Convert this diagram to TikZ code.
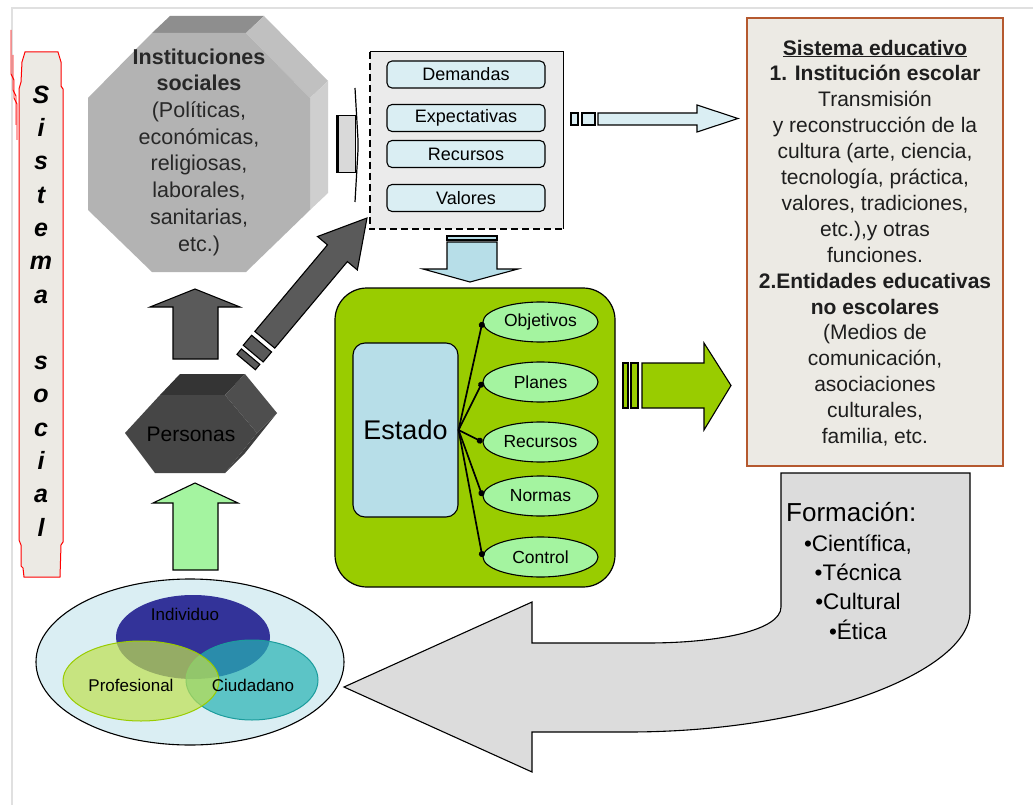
\documentclass[tikz,border=0pt]{standalone}
\usepackage{fontspec}
\setmainfont{Liberation Sans}
\usetikzlibrary{arrows.meta,shapes.geometric}

\definecolor{paleblue}{HTML}{DAEEF3}
\definecolor{tealblue}{HTML}{B7DEE8}
\definecolor{leaf}{HTML}{99CC00}
\definecolor{mint}{HTML}{A4F4A0}
\definecolor{panel}{HTML}{ECEAE4}
\definecolor{boxgray}{HTML}{EBEBEB}
\definecolor{rust}{HTML}{B5592F}
\definecolor{arrowgray}{HTML}{5A5A5A}
\definecolor{formgray}{HTML}{DCDCDC}
\definecolor{navy}{HTML}{333399}
\definecolor{limefill}{HTML}{BFE050}
\definecolor{tealfill}{HTML}{27B3B3}
\definecolor{tealline}{HTML}{1C9C9C}
\definecolor{framegray}{HTML}{E0E0E0}

\newcommand\fsz[2]{\fontsize{#1}{#2}\selectfont}

\begin{document}
\begin{tikzpicture}[x=1pt,y=-1pt,
  blockarrow/.style={draw=black, line width=1.1pt, line join=miter},
  item/.style={draw, line width=1.1pt, fill=paleblue, rounded corners=5pt,
    minimum width=158pt, minimum height=27pt, inner sep=0pt, font=\fsz{18}{18}},
  oval/.style={ellipse, draw, line width=1.1pt, fill=mint, minimum width=115pt,
    minimum height=40pt, inner sep=0pt, font=\fsz{17.5}{18}},
  link/.style={line width=1.7pt, -{Circle[length=6pt]}},
  label/.style={inner sep=0pt, align=center}]
\useasboundingbox (0,0) rectangle (1033,805);
\fill[white] (0,0) rectangle (1033,805);

% page frame
\draw[framegray, line width=1.5pt] (12,805) -- (12,8) -- (1033,8);

% ---------- Sistema social banner ----------
\draw[red, line width=0.9pt] (11,30) -- (11,74) -- (14,80) -- (14,98) -- (17,104) -- (17,140);
\draw[red, line width=0.9pt] (13,55) -- (13,90) -- (16,96) -- (16,125);
\draw[red, line width=1pt, fill=panel]
  (25,52) -- (58,52) -- (61,62) -- (61,86) -- (63,89) -- (63,542) -- (61,545)
  -- (60,577) -- (24,577) -- (23,568) -- (21,566) -- (21,545) -- (19,540)
  -- (19,89) -- (21,82) -- (22,62) -- cycle;
\node[label, font=\bfseries\itshape\fsz{25}{33.3}] (social) at (41,311)
  {S\\i\\s\\t\\e\\m\\a\\\mbox{}\\s\\o\\c\\i\\a\\l};

% ---------- Instituciones sociales (octagonal prism) ----------
\fill[fill={rgb,255:red,142;green,142;blue,142}] (152,33) -- (170,16) -- (264,16) -- (246,33) -- cycle;
\fill[fill={rgb,255:red,192;green,192;blue,192}] (246,33) -- (264,16) -- (328,81) -- (310,98) -- cycle;
\fill[fill={rgb,255:red,207;green,207;blue,207}] (310,98) -- (328,81) -- (328,193) -- (310,210) -- cycle;
\fill[fill={rgb,255:red,179;green,179;blue,179}]
  (88,98) -- (152,33) -- (246,33) -- (310,98) -- (310,210) -- (246,272) -- (152,272) -- (88,210) -- cycle;
\node[label, text={rgb,255:red,40;green,40;blue,40}, font=\fsz{21.5}{26.7}] (inst) at (199,152)
  {\textbf{Instituciones}\\\textbf{sociales}\\(Políticas,\\económicas,\\religiosas,\\laborales,\\sanitarias,\\etc.)};

% ---------- Personas (hexagonal prism) ----------
\fill[fill={rgb,255:red,52;green,52;blue,52}] (160,395) -- (180,374) -- (245,374) -- (225,395) -- cycle;
\fill[fill={rgb,255:red,78;green,78;blue,78}] (225,395) -- (245,374) -- (277,413) -- (257,433) -- cycle;
\fill[fill={rgb,255:red,62;green,62;blue,62}] (257,433) -- (277,413) -- (245,453) -- (225,473) -- cycle;
\fill[fill={rgb,255:red,70;green,70;blue,70}]
  (125,433) -- (160,395) -- (225,395) -- (257,433) -- (225,473) -- (155,473) -- cycle;
\node[label, font=\fsz{21}{21}] (pers) at (191,434) {Personas};

% upward arrows around Personas
\draw[blockarrow, fill=arrowgray]
  (173,359) -- (173,307) -- (150,307) -- (195,289) -- (240,307) -- (218,307) -- (218,359) -- cycle;
\draw[blockarrow, fill=mint]
  (173,570) -- (173,503) -- (153,503) -- (195,483) -- (238,503) -- (218,503) -- (218,570) -- cycle;

% diagonal striped arrow towards the demands box
\begin{scope}[shift={(367,218)}, rotate=50]
  \draw[blockarrow, fill=arrowgray]
    (0,0) -- (-46,26) -- (-46,13) -- (-159,13) -- (-159,-13) -- (-46,-13) -- (-46,-26) -- cycle;
  \draw[blockarrow, fill=arrowgray] (-164,13) rectangle (-177,-13);
  \draw[blockarrow, fill=arrowgray] (-181,12) rectangle (-188,-12);
\end{scope}

% flattened arrow entering the box from the left
\draw[line width=1pt, fill={rgb,255:red,217;green,217;blue,217}] (336,116) rectangle (355,173);
\draw[line width=3pt] (337,116) -- (337,173);
\draw[line width=1.2pt] (355,88) -- (358,140) -- (358,150) -- (355,202);

% ---------- Demands box ----------
\node[fill=boxgray, minimum width=193pt, minimum height=177pt, inner sep=0pt] (needs) at (466.5,140.5) {};
\draw[line width=1.2pt] (needs.north west) -- (needs.north east) -- (needs.south east);
\draw[line width=2.4pt, dash pattern=on 7pt off 4pt] (needs.north west) -- (needs.south west) -- (needs.south east);
\node[item] (dem) at (466,74.5) {Demandas};
\node[item] (expc) at (466,118) {Expectativas};
\node[item] (recu) at (466,154) {Recursos};
\node[item] (valo) at (466,198) {Valores};

% striped arrow to the educational system
\draw[blockarrow, fill=paleblue] (571,113) rectangle (578,125);
\draw[blockarrow, fill=paleblue] (582,113) rectangle (595,125);
\draw[blockarrow, fill=paleblue]
  (598,113) -- (697,113) -- (697,105) -- (738,118.5) -- (697,132) -- (697,125) -- (598,125) -- cycle;

% arrow down to the State
\draw[blockarrow, fill=tealblue] (447,236) rectangle (497,240);
\draw[blockarrow, fill=tealblue]
  (447,242) -- (497,242) -- (497,269) -- (518,269) -- (470,282) -- (423,269) -- (447,269) -- cycle;

% ---------- Estado ----------
\node[draw, line width=1.2pt, fill=leaf, rounded corners=32pt, minimum width=280pt,
  minimum height=299pt, inner sep=0pt] (state) at (475,437.5) {};
\node[draw, line width=1.1pt, fill=tealblue, rounded corners=12pt, minimum width=105pt,
  minimum height=174pt, inner sep=0pt, font=\fsz{27}{27}] (estado) at (405.5,430) {Estado};
\node[oval] (obj) at (540.5,322) {Objetivos};
\node[oval] (plan) at (540.5,382) {Planes};
\node[oval] (recs) at (540.5,442) {Recursos};
\node[oval] (norm) at (540.5,496) {Normas};
\node[oval] (ctrl) at (540.5,557) {Control};
\foreach \t in {obj,plan,recs,norm,ctrl}
  \draw[link] (estado.east) -- (\t.west);

% striped green arrow
\draw[blockarrow, fill=leaf] (623,363) rectangle (628,408);
\draw[blockarrow, fill=leaf] (631,363) rectangle (638,408);
\draw[blockarrow, fill=leaf]
  (642,363) -- (704,363) -- (704,343) -- (731,385.5) -- (704,430) -- (704,408) -- (642,408) -- cycle;

% ---------- Sistema educativo ----------
\node[draw=rust, line width=1.6pt, fill=panel, minimum width=256pt, minimum height=448pt,
  inner sep=0pt] (edu) at (875,242) {};
\node[label, text={rgb,255:red,30;green,30;blue,30}, font=\fsz{21}{25.9}] (edutext) at (875,243)
  {\textbf{\underline{Sistema educativo}}\\
   \textbf{1. Institución escolar}\\
   Transmisión\\
   y reconstrucción de la\\
   cultura (arte, ciencia,\\
   tecnología, práctica,\\
   valores, tradiciones,\\
   etc.),y otras\\
   funciones.\\
   \textbf{2.Entidades educativas}\\
   \textbf{no escolares}\\
   (Medios de\\
   comunicación,\\
   asociaciones\\
   culturales,\\
   familia, etc.};

% ---------- Formación (curved return arrow) ----------
\draw[blockarrow, fill=formgray]
  (781,473) -- (970,473) -- (970,613)
  .. controls (968,670) and (820,732) .. (628,732)
  -- (532,732) -- (532,772) -- (344,687) -- (532,602) -- (532,643) -- (647,643)
  .. controls (720,643) and (781,630) .. (781,607) -- cycle;
\node[label, anchor=west, font=\fsz{26}{26}] (form) at (786,512) {Formación:};
\node[label, font=\fsz{22.5}{29.3}] (bul) at (858,587)
  {•Científica,\\•Técnica\\•Cultural\\•Ética};

% ---------- Individuo / Profesional / Ciudadano ----------
\node[ellipse, draw, line width=1.1pt, fill=paleblue, minimum width=308pt, minimum height=166pt,
  inner sep=0pt] (venn) at (190,662) {};
\node[ellipse, fill=navy, minimum width=154pt, minimum height=84pt, inner sep=0pt] (indiv) at (193,637) {};
\node[ellipse, draw=tealline, line width=1pt, fill=tealfill, fill opacity=0.7,
  minimum width=132pt, minimum height=80pt, inner sep=0pt] (ciud) at (252,680) {};
\node[ellipse, draw=leaf, line width=1pt, fill=limefill, fill opacity=0.7,
  minimum width=156pt, minimum height=80pt, inner sep=0pt] (prof) at (141,681) {};
\node[label, font=\fsz{17}{17}] (tindiv) at (185,614) {Individuo};
\node[label, font=\fsz{17}{17}] (tprof) at (131,685) {Profesional};
\node[label, font=\fsz{17}{17}] (tciud) at (253,685) {Ciudadano};
\end{tikzpicture}
\end{document}
